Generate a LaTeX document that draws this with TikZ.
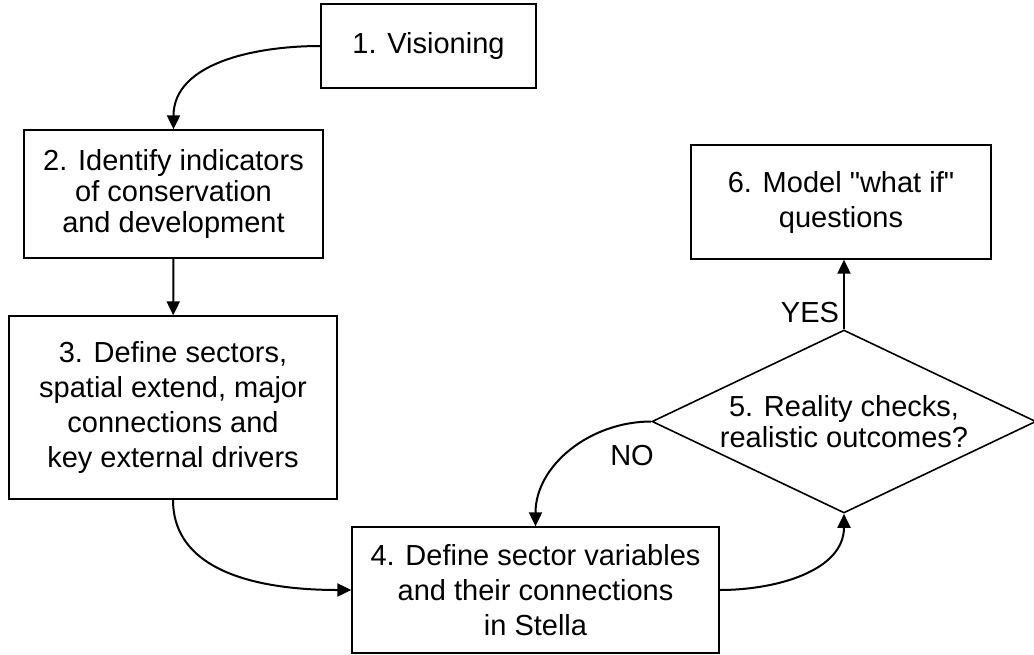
\documentclass[tikz,border=0pt]{standalone}
\usepackage{fontspec}
\setmainfont{Liberation Sans}[Ligatures=TeXOff]
\usetikzlibrary{shapes.geometric,arrows.meta}
\begin{document}
\begin{tikzpicture}[x=1pt,y=-1pt,
		stepbox/.style={draw,line width=1.3pt,align=center,inner sep=0pt,font=\fontsize{29}{35}\selectfont},
		checkbox/.style={diamond,draw,line width=1.6pt,align=center,inner sep=0pt,aspect=2.1,font=\fontsize{29}{31}\selectfont},
		flow/.style={line width=2pt,-{Triangle[length=14pt,width=13pt]}},
		answer/.style={inner sep=0pt,font=\fontsize{29}{31}\selectfont}]
	\useasboundingbox (0,0) rectangle (1034,654);
	\node[stepbox,minimum width=215pt,minimum height=84pt] (vision) at (428.5,46) {1. Visioning};
	\node[stepbox,minimum width=299pt,minimum height=128pt,font=\fontsize{29}{31}\selectfont] (indic) at (173.5,194) {2. Identify indicators\\of conservation\\and development};
	\node[stepbox,minimum width=328pt,minimum height=183pt] (sectors) at (173,407.5) {3. Define sectors,\\spatial extend, major\\connections and\\key external drivers};
	\node[stepbox,minimum width=367pt,minimum height=126pt] (vars) at (535.5,590) {4. Define sector variables\\and their connections\\in Stella};
	\node[checkbox,minimum width=384pt,minimum height=183pt] (check) at (844,421.5) {5. Reality checks,\\realistic outcomes?};
	\node[stepbox,minimum width=300pt,minimum height=114pt] (model) at (841,202) {6. Model "what if"\\questions};
	\draw[flow] (vision.west) to[out=180,in=90] (indic.north);
	\draw[flow] (indic) -- (sectors);
	\draw[flow] (sectors.south) to[out=-90,in=180] (vars.west);
	\draw[flow] (vars.east) to[out=0,in=-90] (check.south);
	\draw[flow] (check.west) to[out=180,in=90] (vars.north);
	\draw[flow] (check.north) -- (check.north |- model.south);
	\node[answer] (yes) at (810,313) {YES};
	\node[answer] (no) at (632,456) {NO};
\end{tikzpicture}
\end{document}
